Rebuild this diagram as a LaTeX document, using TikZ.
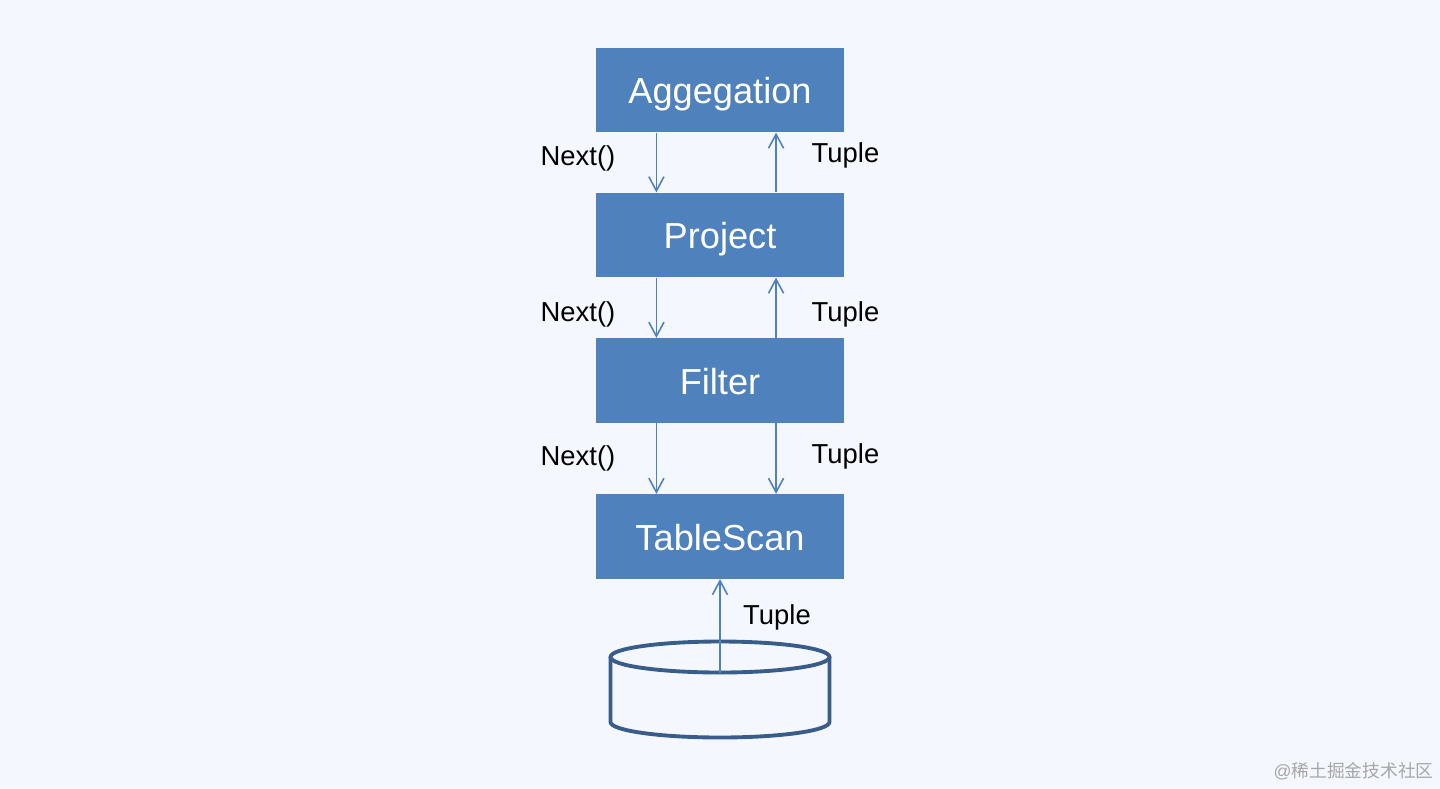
\documentclass[tikz,border=0pt]{standalone}
\usepackage{fontspec}
\setmainfont{Liberation Sans}
\newfontfamily\cjkmark{Noto Sans CJK SC}
\usetikzlibrary{arrows.meta}
\definecolor{pagebg}{HTML}{F4F8FE}
\definecolor{boxblue}{HTML}{4F81BD}
\definecolor{dbblue}{HTML}{385D8A}
\tikzset{
  opbox/.style={fill=boxblue,text=white,minimum width=4.96cm,minimum height=1.69cm,inner sep=0pt,text height=15.6pt,text depth=0pt,font=\fontsize{20.6}{24}\selectfont},
  flow/.style={draw=boxblue,line width=1pt,-{Straight Barb[length=8pt,width=8.6pt,line width=0.9pt]}},
  lbl/.style={text=black,inner sep=0pt,text height=11pt,text depth=0pt,font=\fontsize{15.6}{18}\selectfont},
  dbline/.style={draw=dbblue,line width=2.2pt,line join=round}
}
\begin{document}
\begin{tikzpicture}[x=0.02cm,y=-0.02cm]
    \fill[pagebg] (0,0) rectangle (1440,788);
    \useasboundingbox (0,0) rectangle (1440,788);

    % operators
    \foreach \name/\y/\txt in {agg/90/Aggegation,proj/235/Project,filt/380.5/Filter,scan/536.5/TableScan} {
        \node[opbox] (\name) at (720,\y) {\txt};
      }

    % storage
    \draw[dbline] (610.5,657) -- (610.5,722) arc[start angle=180,end angle=0,x radius=109.5,y radius=15.5] -- (829.5,657);
    \draw[dbline] (720,657) ellipse[x radius=109.5,y radius=15.5];
    \coordinate (db) at (720,672.5);

    % calls and results
    \foreach \a/\b in {agg/proj,proj/filt,filt/scan} {
        \draw[flow] ([xshift=-36.2pt]\a.south) -- ([xshift=-36.2pt]\b.north);
      }
    \draw[flow] ([xshift=31.9pt]proj.north) -- ([xshift=31.9pt]agg.south);
    \draw[flow] ([xshift=31.9pt]filt.north) -- ([xshift=31.9pt]proj.south);
    \draw[flow] ([xshift=31.9pt]filt.south) -- ([xshift=31.9pt]scan.north);
    \draw[flow] (db) -- (scan.south);

    % labels
    \foreach \n/\y in {a/156,b/312,c/456} {
        \node[lbl] (next\n) at (578,\y) {Next()};
      }
    \foreach \n/\x/\y in {a/845.5/153,b/845.5/312,c/845.5/454,d/777/615} {
        \node[lbl] (tuple\n) at (\x,\y) {Tuple};
      }
    \node[anchor=east,inner sep=0pt,text=black!35,font=\fontsize{10.1}{12}\selectfont] (mark) at (1434,771) {@{\cjkmark 稀土掘金技术社区}};
  \end{tikzpicture}
\end{document}
